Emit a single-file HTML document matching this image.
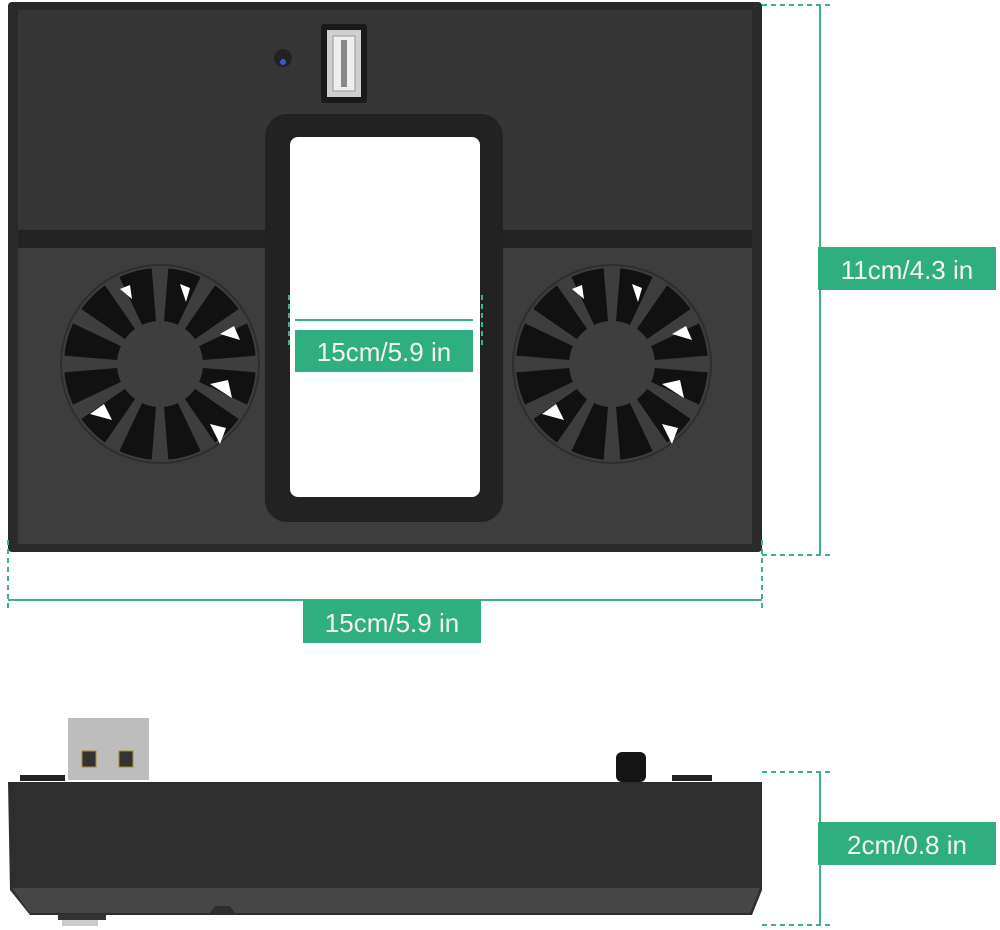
<!DOCTYPE html>
<html><head><meta charset="utf-8"><style>
html,body{margin:0;padding:0;background:#fff;}
svg{display:block;}
text{font-family:"Liberation Sans",sans-serif;}
</style></head><body>
<svg width="1000" height="930" viewBox="0 0 1000 930" xmlns="http://www.w3.org/2000/svg">
<defs>
<path id="slot" d="M -7.2 -42.4 L -16.7 -94.5 A 96 96 0 0 1 16.7 -94.5 L 7.2 -42.4 A 43 43 0 0 0 -7.2 -42.4 Z" fill="#111"/>
<g id="fan">
<circle r="99" fill="#3e3e3e" stroke="#2e2e2e" stroke-width="2"/>
<use href="#slot" transform="rotate(15)"/><use href="#slot" transform="rotate(45)"/>
<use href="#slot" transform="rotate(75)"/><use href="#slot" transform="rotate(105)"/>
<use href="#slot" transform="rotate(135)"/><use href="#slot" transform="rotate(165)"/>
<use href="#slot" transform="rotate(195)"/><use href="#slot" transform="rotate(225)"/>
<use href="#slot" transform="rotate(255)"/><use href="#slot" transform="rotate(285)"/>
<use href="#slot" transform="rotate(315)"/><use href="#slot" transform="rotate(345)"/>
<path d="M60 -30 l14 -8 l6 14 z M50 20 l18 -4 l4 18 z M-70 50 l14 -10 l8 16 z M20 -80 l10 4 l-4 14 z M50 60 l16 4 l-6 16z M-40 -75 l10 -4 l2 14z" fill="#fff"/>
</g>
</defs>
<rect x="8" y="2" width="754" height="550" rx="4" fill="#2a2a2a"/>
<rect x="18" y="10" width="734" height="534" fill="#3d3d3d"/>
<rect x="18" y="10" width="734" height="222" fill="#363636"/>
<rect x="18" y="230" width="247" height="18" fill="#232323"/>
<rect x="503" y="230" width="249" height="18" fill="#232323"/>
<use href="#fan" x="160" y="364"/>
<use href="#fan" x="612" y="364"/>
<rect x="265" y="114" width="238" height="408" rx="22" fill="#222"/>
<rect x="290" y="137" width="190" height="360" rx="8" fill="#fff"/>
<rect x="321" y="24" width="46" height="79" rx="3" fill="#1a1a1a"/>
<rect x="327" y="30" width="34" height="67" fill="#cfcfcf"/>
<rect x="333" y="36" width="22" height="55" fill="#eee" stroke="#999"/>
<rect x="341" y="40" width="6" height="47" fill="#888"/>
<circle cx="283" cy="58" r="9" fill="#222"/><circle cx="283" cy="62" r="3" fill="#3a5bd0"/>
<g stroke="#3bb38a" stroke-width="2" fill="none">
<line x1="820" y1="5" x2="820" y2="555"/>
<line x1="8" y1="600" x2="762" y2="600"/>
<line x1="295" y1="320" x2="473" y2="320"/>
</g>
<g stroke="#3bb38a" stroke-width="2" stroke-dasharray="5,4" fill="none">
<line x1="762" y1="5" x2="832" y2="5"/>
<line x1="762" y1="555" x2="832" y2="555"/>
<line x1="8" y1="540" x2="8" y2="612"/>
<line x1="762" y1="540" x2="762" y2="612"/>
<line x1="289" y1="295" x2="289" y2="345"/>
<line x1="482" y1="295" x2="482" y2="345"/>
<line x1="762" y1="772" x2="832" y2="772"/>
<line x1="762" y1="925" x2="832" y2="925"/>
</g>
<line x1="820" y1="772" x2="820" y2="925" stroke="#3bb38a" stroke-width="2"/>
<rect x="818" y="247" width="178" height="43" fill="#2fae7f"/>
<text x="907" y="279" font-size="26" fill="#f4f4f4" text-anchor="middle">11cm/4.3 in</text>
<rect x="303" y="600" width="178" height="43" fill="#2fae7f"/>
<text x="392" y="632" font-size="26" fill="#f4f4f4" text-anchor="middle">15cm/5.9 in</text>
<rect x="295" y="330" width="178" height="42" fill="#2fae7f"/>
<text x="384" y="361" font-size="26" fill="#f4f4f4" text-anchor="middle">15cm/5.9 in</text>
<rect x="818" y="822" width="178" height="43" fill="#2fae7f"/>
<text x="907" y="854" font-size="26" fill="#f4f4f4" text-anchor="middle">2cm/0.8 in</text>
<rect x="68" y="718" width="81" height="62" fill="#bdbdbd"/>
<rect x="82" y="751" width="14" height="16" fill="#333" stroke="#b08a30"/>
<rect x="119" y="751" width="14" height="16" fill="#333" stroke="#b08a30"/>
<rect x="616" y="752" width="30" height="30" rx="6" fill="#151515"/>
<rect x="20" y="775" width="45" height="6" fill="#222"/>
<rect x="672" y="775" width="40" height="6" fill="#222"/>
<path d="M8 782 L762 782 L762 890 L752 915 L30 915 L10 890 Z" fill="#2e2e2e"/>
<path d="M12 888 L760 888 L750 913 L235 913 L230 906 L215 906 L210 913 L30 913 Z" fill="#464646"/>
<rect x="58" y="914" width="48" height="6" fill="#333"/>
<rect x="62" y="920" width="36" height="6" fill="#ccc"/>
</svg>
</body></html>
